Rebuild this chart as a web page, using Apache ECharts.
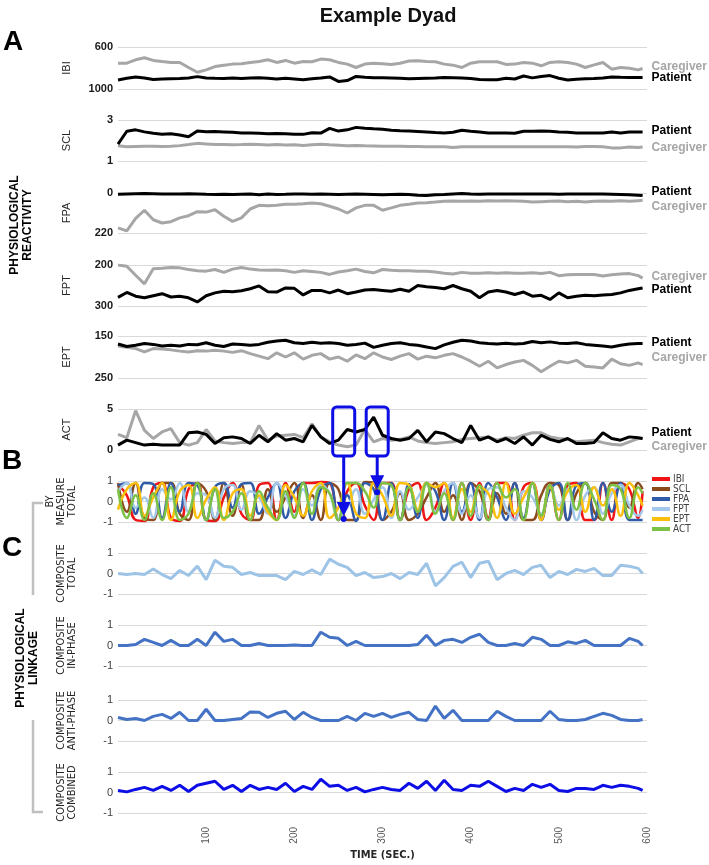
<!DOCTYPE html>
<html>
<head>
<meta charset="utf-8">
<title>Example Dyad</title>
<script src="https://cdn.jsdelivr.net/npm/echarts@6/dist/echarts.min.js"></script>
<style>
  html, body { margin: 0; padding: 0; background: #fff; }
  #chart { width: 709px; height: 865px; }
</style>
</head>
<body>
<div id="chart"></div>
<script>
// time in seconds
const times = [0, 10, 20, 30, 40, 50, 60, 70, 80, 90,
  100, 110, 120, 130, 140, 150, 160, 170, 180, 190,
  200, 210, 220, 230, 240, 250, 260, 270, 280, 290,
  300, 310, 320, 330, 340, 350, 360, 370, 380, 390,
  400, 410, 420, 430, 440, 450, 460, 470, 480, 490,
  500, 510, 520, 530, 540, 550, 560, 570, 580, 590,
  595];
const xTicks = [0, 100, 200, 300, 400, 500, 600];

// A: physiological reactivity
const ibiCaregiver = [754, 754, 722, 702, 728, 738, 747, 747, 795, 840,
  818, 786, 773, 763, 760, 747, 738, 722, 747, 728,
  754, 738, 741, 715, 722, 747, 763, 795, 763, 754,
  760, 766, 754, 734, 731, 738, 741, 763, 773, 795,
  754, 741, 741, 741, 766, 763, 747, 754, 779, 747,
  741, 747, 763, 795, 770, 747, 811, 795, 802, 818,
  805];
const ibiPatient = [914, 898, 885, 895, 910, 905, 902, 900, 895, 882,
  895, 898, 900, 896, 900, 896, 892, 898, 905, 898,
  904, 912, 902, 896, 885, 928, 920, 880, 888, 894,
  893, 895, 898, 902, 900, 898, 896, 890, 893, 896,
  900, 910, 912, 912, 898, 905, 876, 894, 880, 872,
  898, 914, 908, 903, 900, 895, 885, 888, 890, 890,
  890];
const sclPatient = [1.82, 2.45, 2.52, 2.42, 2.35, 2.30, 2.33, 2.27, 2.18, 2.46,
  2.43, 2.44, 2.42, 2.40, 2.37, 2.36, 2.35, 2.33, 2.34, 2.33,
  2.31, 2.30, 2.38, 2.36, 2.59, 2.46, 2.52, 2.64, 2.60, 2.57,
  2.55, 2.50, 2.47, 2.46, 2.44, 2.42, 2.39, 2.37, 2.40, 2.50,
  2.45, 2.42, 2.37, 2.36, 2.36, 2.35, 2.45, 2.45, 2.46, 2.45,
  2.42, 2.40, 2.37, 2.37, 2.37, 2.37, 2.42, 2.37, 2.42, 2.42,
  2.42];
const sclCaregiver = [1.74, 1.70, 1.71, 1.72, 1.72, 1.71, 1.72, 1.75, 1.80, 1.86,
  1.83, 1.80, 1.80, 1.79, 1.80, 1.82, 1.80, 1.78, 1.80, 1.78,
  1.79, 1.76, 1.79, 1.82, 1.79, 1.77, 1.74, 1.76, 1.74, 1.73,
  1.72, 1.72, 1.72, 1.71, 1.71, 1.70, 1.70, 1.69, 1.66, 1.69,
  1.70, 1.70, 1.70, 1.70, 1.70, 1.70, 1.70, 1.70, 1.70, 1.70,
  1.70, 1.70, 1.68, 1.71, 1.71, 1.70, 1.64, 1.64, 1.68, 1.66,
  1.68];
const fpaPatient = [7, 5, 4, 3, 4, 6, 6, 5, 4, 5,
  7, 8, 7, 8, 7, 6, 9, 6, 8, 7,
  5, 6, 7, 6, 7, 8, 7, 6, 7, 8,
  9, 8, 7, 8, 12, 14, 10, 8, 5, 3,
  6, 7, 6, 5, 5, 5, 6, 6, 5, 6,
  7, 6, 5, 6, 6, 6, 7, 8, 9, 12,
  14];
const fpaCaregiver = [192, 208, 140, 95, 147, 165, 158, 137, 125, 103,
  105, 92, 128, 156, 137, 88, 68, 70, 68, 62,
  62, 59, 55, 59, 73, 88, 110, 82, 68, 68,
  95, 82, 68, 62, 55, 53, 50, 46, 44, 46,
  44, 46, 42, 44, 42, 44, 46, 50, 48, 46,
  44, 48, 46, 50, 46, 44, 46, 42, 46, 42,
  40];
const fptCaregiver = [200, 203, 225, 246, 209, 208, 206, 207, 211, 214,
  215, 211, 218, 210, 206, 210, 212, 213, 212, 214,
  218, 214, 216, 218, 223, 217, 214, 210, 216, 219,
  211, 213, 214, 214, 215, 215, 217, 220, 222, 218,
  220, 220, 219, 220, 219, 220, 220, 219, 221, 218,
  226, 224, 223, 223, 223, 227, 224, 222, 221, 226,
  232];
const fptPatient = [279, 267, 276, 280, 275, 270, 278, 276, 280, 290,
  275, 268, 264, 265, 263, 258, 251, 265, 266, 256,
  257, 273, 262, 262, 268, 261, 270, 266, 261, 260,
  262, 264, 259, 264, 250, 253, 255, 258, 250, 258,
  264, 280, 266, 262, 266, 272, 266, 276, 274, 284,
  268, 280, 276, 274, 275, 273, 272, 268, 262, 258,
  256];
const eptPatient = [169, 175, 172, 168, 170, 174, 172, 174, 170, 171,
  166, 172, 175, 169, 170, 172, 170, 165, 162, 160,
  166, 168, 165, 167, 166, 168, 172, 170, 167, 177,
  172, 168, 166, 170, 172, 176, 180, 171, 165, 160,
  162, 166, 168, 169, 167, 169, 168, 163, 166, 164,
  167, 168, 166, 170, 172, 174, 176, 172, 169, 168,
  168];
const eptCaregiver = [174, 177, 180, 188, 180, 181, 183, 186, 188, 185,
  186, 184, 186, 189, 185, 192, 198, 204, 190, 200,
  190, 205, 196, 192, 205, 200, 210, 195, 204, 190,
  200, 206, 198, 192, 205, 198, 202, 196, 192, 200,
  210, 222, 210, 226, 218, 212, 208, 220, 235, 222,
  210, 214, 208, 222, 224, 226, 205, 216, 220, 214,
  218];
const actCaregiver = [1.9, 1.5, 4.8, 2.4, 1.4, 2.2, 2.6, 0.9, 0.6, 0.9,
  2.5, 1.1, 0.9, 0.8, 0.9, 0.9, 3.0, 1.2, 1.7, 1.8,
  1.9, 1.5, 3.2, 1.6, 1.0, 0.6, 0.4, 0.6, 2.5, 1.0,
  1.4, 1.2, 1.3, 1.6, 1.1, 0.9, 0.8, 0.9, 1.0, 1.3,
  1.4, 1.5, 1.6, 1.2, 1.5, 1.4, 1.8, 2.1, 2.1, 1.6,
  1.4, 1.3, 1.0, 1.1, 1.2, 0.9, 0.7, 0.6, 1.0, 1.4,
  1.4];
const actPatient = [0.6, 1.2, 0.9, 0.6, 0.7, 0.6, 0.6, 0.6, 2.1, 2.2,
  1.9, 0.8, 1.5, 1.6, 1.4, 0.8, 1.8, 1.0, 2.0, 1.2,
  1.4, 1.0, 3.0, 1.6, 0.8, 1.2, 2.5, 2.2, 2.5, 4.0,
  1.8, 1.4, 1.2, 1.4, 2.4, 1.0, 2.2, 2.0, 1.4, 0.9,
  3.0, 1.2, 1.6, 1.0, 1.4, 0.8, 1.6, 0.6, 1.8, 1.3,
  1.0, 1.4, 0.8, 0.8, 0.9, 2.1, 1.4, 1.2, 1.6, 1.5,
  1.4];

// B: linkage by measure
const measureNames = ['IBI', 'SCL', 'FPA', 'FPT', 'EPT', 'ACT'];
const linkIBI = [0.8, 0.3, -0.9, -0.95, 0.7, 0.9, -0.8, -0.95, 0.6, 0.9,
  -0.9, -0.95, 0.2, 0.9, -0.6, -0.9, 0.8, 0.9, -0.9, 0.9,
  -0.5, 0.9, 0.9, 0.95, 0.9, -0.9, 0.5, 0.9, -0.2, -0.9,
  0.9, 0.9, -0.9, 0.6, 0.9, -0.9, -0.3, 0.9, -0.9, 0.9,
  -0.9, 0.9, -0.8, 0.9, 0.9, -0.9, 0.7, 0.9, -0.9, 0.9,
  -0.9, 0.8, 0.9, -0.9, -0.9, 0.9, -0.9, 0.9, 0.6, -0.8,
  0.5];
const linkSCL = [0.9, -0.5, 0.9, -0.8, -0.9, 0.9, 0.9, -0.6, -0.9, 0.9,
  0.5, -0.9, 0.9, -0.7, 0.8, -0.9, -0.9, 0.6, -0.5, 0.2,
  0.9, -0.8, 0.3, -0.9, 0.9, 0.6, -0.9, -0.9, 0.95, 0.9,
  -0.9, -0.5, 0.4, -0.9, -0.6, 0.2, 0.9, -0.5, 0.3, -0.9,
  0.9, 0.5, -0.9, 0.4, -0.6, 0.9, -0.9, -0.9, 0.3, 0.9,
  0.8, -0.9, 0.4, 0.9, -0.5, -0.9, 0.9, 0.9, -0.3, 0.9,
  0.6];
const linkFPA = [0.8, 0.9, -0.6, 0.9, 0.85, -0.8, 0.9, -0.5, 0.9, 0.8,
  -0.9, 0.7, 0.9, -0.3, 0.85, 0.9, -0.6, 0.2, 0.9, -0.8,
  0.5, 0.9, -0.9, 0.6, 0.9, -0.9, 0.3, -0.95, 0.9, 0.6,
  -0.9, 0.9, -0.9, 0.85, -0.8, 0.9, 0.5, -0.9, 0.9, -0.5,
  0.9, -0.9, 0.9, 0.2, -0.9, 0.9, -0.8, 0.9, -0.9, 0.6,
  0.9, -0.9, 0.8, 0.9, -0.9, 0.9, -0.5, 0.9, -0.9, -0.9,
  -0.9];
const linkFPT = [0.5, 0.9, -0.3, 0.2, -0.8, 0.6, 0.1, 0.9, -0.5, 0.4,
  0.3, -0.8, 0.6, 0.8, -0.4, 0.5, 0.2, -0.6, 0.9, 0.3,
  -0.7, 0.6, -0.2, 0.8, 0.4, -0.8, -0.3, 0.6, -0.6, 0.1,
  0.7, -0.8, 0.5, -0.4, 0.2, 0.8, -0.5, 0.5, 0.9, -0.6,
  0.3, -0.8, 0.6, 0.7, -0.3, -0.9, 0.5, 0.2, -0.6, 0.8,
  -0.2, 0.6, -0.9, 0.3, 0.7, -0.6, 0.4, 0.8, -0.2, -0.7,
  -0.4];
const linkEPT = [-0.4, 0.6, 0.9, -0.7, 0.2, 0.9, -0.9, 0.5, 0.8, -0.8,
  0.1, 0.7, -0.9, 0.4, 0.6, -0.7, 0.3, -0.5, -0.9, 0.8,
  0.2, -0.7, 0.5, 0.9, -0.8, -0.3, 0.9, -0.6, -0.8, 0.9,
  0.3, -0.7, 0.9, 0.8, -0.4, 0.9, 0.7, 0.9, -0.8, 0.6,
  -0.5, 0.7, 0.4, -0.8, 0.9, -0.6, 0.2, 0.9, -0.9, 0.7,
  -0.4, 0.5, 0.8, -0.5, 0.7, -0.2, 0.6, -0.7, 0.9, 0.3,
  -0.2];
const linkACT = [0.6, -0.8, 0.3, -0.9, 0.4, -0.9, 0.7, -0.9, -0.6, 0.9,
  -0.9, 0.6, -0.8, -0.5, 0.4, -0.9, 0.5, -0.3, -0.9, 0.5,
  -0.8, 0.9, -0.6, 0.7, 0.4, -0.9, 0.9, 0.9, 0.5, -0.3,
  0.9, 0.8, -0.9, 0.7, -0.5, 0.9, -0.6, 0.4, -0.9, 0.9,
  -0.7, 0.8, -0.9, 0.9, 0.2, 0.6, -0.9, 0.9, -0.7, 0.8,
  -0.9, 0.9, -0.4, 0.9, 0.1, -0.9, 0.8, 0.6, -0.8, 0.7,
  0.4];

// C: composite linkage
const compositeTotal = [0.0, -0.05, 0.0, -0.05, 0.22, -0.05, -0.25, 0.15, -0.1, 0.36,
  -0.3, 0.65, 0.35, 0.3, -0.05, 0.05, -0.1, -0.1, -0.1, -0.3,
  0.1, -0.05, 0.18, -0.05, 0.7, 0.45, 0.3, -0.1, 0.05, -0.2,
  -0.15, 0.0, -0.25, 0.05, -0.05, 0.5, -0.6, -0.2, 0.35, 0.55,
  -0.2, 0.5, 0.6, -0.3, 0.0, 0.15, -0.05, 0.3, 0.4, -0.2,
  0.1, -0.05, 0.2, 0.1, 0.25, -0.1, -0.1, 0.4, 0.35, 0.25,
  0.0];
const compositeInPhase = [0, 0, 0.05, 0.3, 0.15, 0, 0.25, 0, 0, 0.3,
  0, 0.65, 0.2, 0.3, 0, 0, 0.1, 0, 0, 0,
  0.03, 0, 0, 0.65, 0.4, 0.35, 0, 0.2, 0, 0,
  0, 0, 0, 0, 0.05, 0.5, 0, 0.25, 0.3, 0.15,
  0.4, 0.55, 0.15, 0, 0, 0.1, 0, 0.4, 0.3, 0,
  0, 0.18, 0.1, 0.25, 0, 0, 0, 0, 0.35, 0.2,
  0];
const compositeAntiPhase = [0.15, 0.05, 0.1, 0, 0.2, 0.3, 0.1, 0.4, 0, 0,
  0.55, 0, 0, 0.05, 0.1, 0.42, 0.4, 0.15, 0.35, 0.45,
  0.05, 0.4, 0.15, 0, 0, 0, 0.2, 0, 0.35, 0.2,
  0.35, 0.15, 0.3, 0.4, 0.05, 0, 0.7, 0.1, 0.5, 0,
  0, 0, 0, 0.45, 0.2, 0, 0, 0, 0, 0.45,
  0.05, 0, 0, 0.05, 0.2, 0.35, 0.25, 0.05, 0, 0,
  0.05];
const compositeCombined = [0.1, 0.03, 0.15, 0.25, 0.1, 0.3, 0.1, 0.35, 0.05, 0.35,
  0.45, 0.55, 0.15, 0.35, 0.05, 0.35, 0.15, 0.25, 0.15, 0.45,
  0.05, 0.3, 0.15, 0.65, 0.3, 0.35, 0.1, 0.25, 0.03, 0.15,
  0.25, 0.15, 0.1, 0.45, 0.2, 0.55, 0.1, 0.6, 0.15, 0.1,
  0.35, 0.3, 0.55, 0.3, 0.05, 0.2, 0.1, 0.4, 0.25, 0.4,
  0.1, 0.05, 0.2, 0.2, 0.15, 0.35, 0.25, 0.35, 0.3, 0.2,
  0.1];

// highlighted moments (sec) and where the arrows land on the by-measure panel
const annotTimes = [256, 294];
const annotLinkValues = [-0.85, 0.45];

const FONT = "'Liberation Sans', Arial, sans-serif";
const NARROW = "'Liberation Sans Narrow', 'DejaVu Sans Condensed', sans-serif";
const BLACK = '#000000';
const GRAY = '#a6a6a6';
const BLUE = '#0d0de6';
const measureColors = ['#f01414', '#8a4a1c', '#2f5ba8', '#a4c8ea', '#fbbf0c', '#7cc244'];

// panel layout (pixels) and scales
const panels = [
  { name: 'IBI', top: 47, height: 42, min: 600, max: 1000, interval: 200, inverse: true },
  { name: 'SCL', top: 120, height: 41, min: 1, max: 3, interval: 1 },
  { name: 'FPA', top: 193, height: 40, min: 0, max: 220, interval: 110, inverse: true },
  { name: 'FPT', top: 265, height: 41, min: 200, max: 300, interval: 50, inverse: true },
  { name: 'EPT', top: 336, height: 42, min: 150, max: 250, interval: 50, inverse: true },
  { name: 'ACT', top: 409, height: 41, min: 0, max: 5, interval: 2.5 },
  { name: 'BY\nMEASURE\nTOTAL', top: 481, height: 41, min: -1, max: 1, interval: 1, full: true },
  { name: 'COMPOSITE\nTOTAL', top: 553, height: 41, min: -1, max: 1, interval: 1, full: true },
  { name: 'COMPOSITE\nIN-PHASE', top: 625, height: 41, min: -1, max: 1, interval: 1, full: true },
  { name: 'COMPOSITE\nANTI-PHASE', top: 700, height: 41, min: -1, max: 1, interval: 1, full: true },
  { name: 'COMPOSITE\nCOMBINED', top: 772, height: 41, min: -1, max: 1, interval: 1, full: true }
];
const last = panels.length - 1;

const reactivity = [
  { grid: 0, data: ibiCaregiver, color: GRAY, label: 'Caregiver', dy: -2 },
  { grid: 0, data: ibiPatient, color: BLACK, label: 'Patient', dy: 0 },
  { grid: 1, data: sclCaregiver, color: GRAY, label: 'Caregiver', dy: 1 },
  { grid: 1, data: sclPatient, color: BLACK, label: 'Patient', dy: -1 },
  { grid: 2, data: fpaCaregiver, color: GRAY, label: 'Caregiver', dy: 6 },
  { grid: 2, data: fpaPatient, color: BLACK, label: 'Patient', dy: -4 },
  { grid: 3, data: fptCaregiver, color: GRAY, label: 'Caregiver', dy: -1 },
  { grid: 3, data: fptPatient, color: BLACK, label: 'Patient', dy: 2 },
  { grid: 4, data: eptCaregiver, color: GRAY, label: 'Caregiver', dy: -7 },
  { grid: 4, data: eptPatient, color: BLACK, label: 'Patient', dy: -1 },
  { grid: 5, data: actCaregiver, color: GRAY, label: 'Caregiver', dy: 8 },
  { grid: 5, data: actPatient, color: BLACK, label: 'Patient', dy: -6 }
];
const byMeasure = [linkIBI, linkSCL, linkFPA, linkFPT, linkEPT, linkACT];
const composites = [
  { grid: 7, data: compositeTotal, color: '#9dc3e6' },
  { grid: 8, data: compositeInPhase, color: '#4472c4' },
  { grid: 9, data: compositeAntiPhase, color: '#4472c4' },
  { grid: 10, data: compositeCombined, color: BLUE }
];

const pts = arr => times.map((t, i) => [t, arr[i]]);

const series = [];
reactivity.forEach(s => {
  series.push({
    type: 'line', name: s.label, xAxisIndex: s.grid, yAxisIndex: s.grid,
    data: pts(s.data), showSymbol: false, silent: true,
    lineStyle: { color: s.color, width: 3 },
    endLabel: {
      show: true, formatter: s.label, distance: 9, offset: [0, s.dy],
      color: s.color, fontWeight: 'bold', fontSize: 12, fontFamily: FONT
    }
  });
});
byMeasure.forEach((arr, k) => {
  series.push({
    type: 'line', name: measureNames[k], xAxisIndex: 6, yAxisIndex: 6,
    data: pts(arr), showSymbol: false, silent: true, smooth: 0.45,
    itemStyle: { color: measureColors[k] },
    lineStyle: { color: measureColors[k], width: 2.5 }
  });
});
composites.forEach(s => {
  series.push({
    type: 'line', xAxisIndex: s.grid, yAxisIndex: s.grid,
    data: pts(s.data), showSymbol: false, silent: true,
    lineStyle: { color: s.color, width: 3 }
  });
});

const option = {
  animation: false,
  backgroundColor: '#ffffff',
  title: {
    text: 'Example Dyad', left: 383, top: 1, textAlign: 'center',
    textStyle: { fontSize: 20, fontWeight: 'bold', color: '#111', fontFamily: FONT }
  },
  legend: {
    data: measureNames, orient: 'vertical', left: 652, top: 474, padding: 0,
    itemWidth: 18, itemHeight: 4, itemGap: 0, icon: 'rect', selectedMode: false,
    textStyle: { fontSize: 10, lineHeight: 9, color: '#404040', fontFamily: NARROW, padding: [0, 0, 0, -2] }
  },
  grid: panels.map(p => ({ left: 118, right: 62, top: p.top, height: p.height, outerBoundsMode: 'none' })),
  xAxis: panels.map((p, i) => ({
    gridIndex: i, type: 'value', min: 0, max: 600, interval: 100,
    axisLine: { show: false }, axisTick: { show: false }, splitLine: { show: false },
    axisLabel: i === last ? {
      rotate: 90, margin: 14, fontSize: 10, color: '#595959', fontFamily: FONT,
      formatter: v => (v === xTicks[0] ? '' : String(v))
    } : { show: false },
    name: i === last ? 'TIME (SEC.)' : '',
    nameLocation: 'middle', nameGap: 37, nameMoveOverlap: false,
    nameTextStyle: { fontSize: 11, fontWeight: 'bold', color: '#262626', fontFamily: NARROW }
  })),
  yAxis: panels.map((p, i) => ({
    gridIndex: i, type: 'value', min: p.min, max: p.max, interval: p.interval,
    inverse: !!p.inverse,
    name: p.name, nameLocation: 'middle', nameRotate: 90, nameMoveOverlap: false,
    nameGap: p.full ? 40 : 46,
    nameTextStyle: p.full
      ? { fontSize: 11, lineHeight: 11, color: '#262626', fontFamily: NARROW }
      : { fontSize: 11, color: '#262626', fontFamily: FONT },
    axisLine: { show: false }, axisTick: { show: false },
    axisLabel: {
      margin: 5, fontSize: 11, fontFamily: FONT,
      fontWeight: p.full ? 'normal' : 'bold',
      color: p.full ? '#404040' : '#1a1a1a',
      formatter: v => (p.full || v === p.min || v === p.max) ? String(v) : ''
    },
    splitLine: { lineStyle: { color: p.full ? '#d9d9d9' : ['#d9d9d9', 'rgba(0,0,0,0)'], width: 1 } }
  })),
  series: series
};

const chart = echarts.init(document.getElementById('chart'));
chart.setOption(option);

// panel letters, side headings, brackets and the blue call-outs
function decorations() {
  const els = [];
  const letter = (t, x, y) => ({
    type: 'text', x: x, y: y, z: 10,
    style: { text: t, fontSize: 28, fontWeight: 'bold', fontFamily: FONT, fill: '#000', align: 'center', verticalAlign: 'middle' }
  });
  els.push(letter('A', 13, 42), letter('B', 12, 461), letter('C', 12, 548));
  const heading = (t, x, y) => ({
    type: 'text', x: x, y: y, rotation: Math.PI / 2, z: 10,
    style: { text: t, fontSize: 12, lineHeight: 13, fontWeight: 'bold', fontFamily: FONT, fill: '#000', align: 'center', verticalAlign: 'middle' }
  });
  els.push(heading('PHYSIOLOGICAL\nREACTIVITY', 21, 225));
  els.push(heading('PHYSIOLOGICAL\nLINKAGE', 27, 658));
  els.push({ type: 'polyline', z: 10, shape: { points: [[43, 503], [33, 503], [33, 595]] }, style: { stroke: '#bfbfbf', lineWidth: 2.5, fill: null } });
  els.push({ type: 'polyline', z: 10, shape: { points: [[33, 720], [33, 812], [43, 812]] }, style: { stroke: '#bfbfbf', lineWidth: 2.5, fill: null } });

  annotTimes.forEach((t, k) => {
    const top = chart.convertToPixel({ xAxisIndex: 5, yAxisIndex: 5 }, [t, 5]);
    const bot = chart.convertToPixel({ xAxisIndex: 5, yAxisIndex: 5 }, [t, 0]);
    const tgt = chart.convertToPixel({ xAxisIndex: 6, yAxisIndex: 6 }, [t, annotLinkValues[k]]);
    const x = top[0];
    const boxTop = top[1] - 2, boxBot = bot[1] + 6;
    els.push({ type: 'rect', z: 20, shape: { x: x - 11, y: boxTop, width: 22, height: boxBot - boxTop, r: 4 }, style: { fill: null, stroke: BLUE, lineWidth: 3 } });
    els.push({ type: 'line', z: 20, shape: { x1: x, y1: boxBot, x2: x, y2: tgt[1] - 14 }, style: { stroke: BLUE, lineWidth: 3 } });
    els.push({ type: 'polygon', z: 20, shape: { points: [[x - 7, tgt[1] - 17], [x + 7, tgt[1] - 17], [x, tgt[1] - 3]] }, style: { fill: BLUE } });
    els.push({ type: 'circle', z: 20, shape: { cx: x, cy: tgt[1], r: 3 }, style: { fill: BLUE } });
  });
  return els;
}
chart.setOption({ graphic: { elements: decorations() } });
</script>
</body>
</html>
